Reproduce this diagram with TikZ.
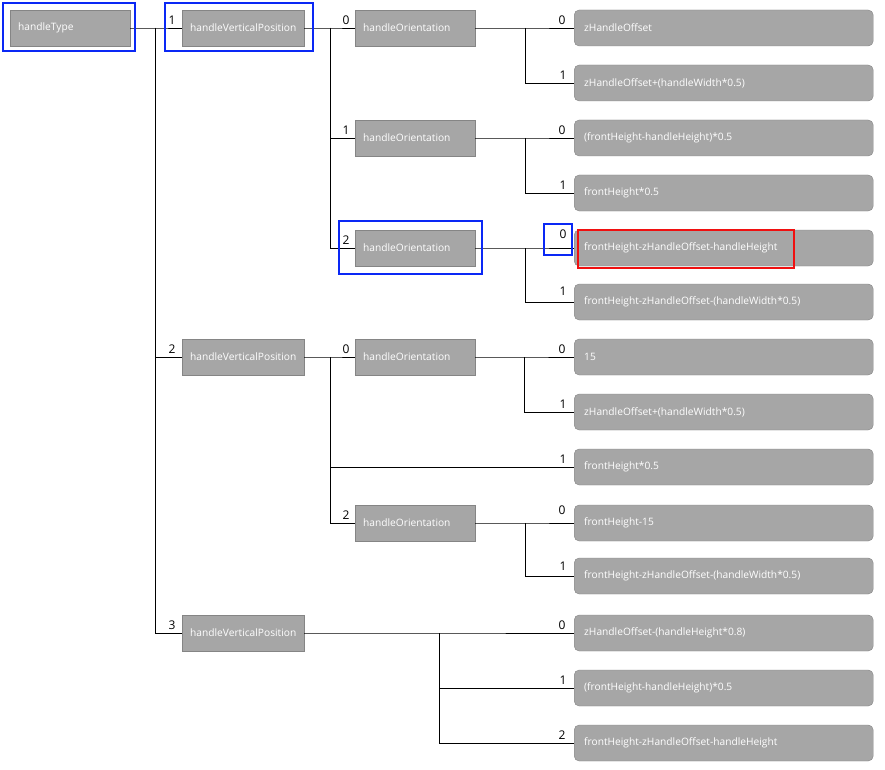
\documentclass[tikz,border=0pt]{standalone}
\usepackage{fontspec}
\setmainfont{Open Sans}
\begin{document}
\begin{tikzpicture}[x=1pt,y=-1pt,
  box/.style={draw=boxline,fill=boxfill,text=white,minimum height=36pt,inner xsep=8pt,inner ysep=0pt,
    text width=104pt,align=left,anchor=west,font=\fontsize{10.2}{12}\selectfont},
  leaf/.style={box,rounded corners=5pt,text width=279pt,inner xsep=10pt},
  idx/.style={font=\fontsize{12}{14}\selectfont,inner sep=0pt,anchor=south},
  wire/.style={draw=black,line width=0.8pt},
  hl/.style={draw=hlblue,line width=1.6pt},
  hlr/.style={draw=hlred,line width=1.6pt}]
\definecolor{boxfill}{HTML}{A6A6A6}
\definecolor{boxline}{HTML}{858585}
\definecolor{hlblue}{HTML}{0A28F5}
\definecolor{hlred}{HTML}{F01010}
\useasboundingbox[fill=white] (0,0) rectangle (885,770);

% level nodes
\node[box] (ht) at (10,28) {handleType};
\node[box,text width=106pt] (v1) at (182,28) {handleVerticalPosition};
\node[box,text width=106pt] (v2) at (182,357) {handleVerticalPosition};
\node[box,text width=106pt] (v3) at (182,633) {handleVerticalPosition};
\node[box] (o10) at (355,28) {handleOrientation};
\node[box] (o11) at (355,138) {handleOrientation};
\node[box] (o12) at (355,248) {handleOrientation};
\node[box] (o20) at (355,357) {handleOrientation};
\node[box] (o22) at (355,523) {handleOrientation};

% leaves
\node[leaf] (l1) at (574,28) {zHandleOffset};
\node[leaf] (l2) at (574,83) {zHandleOffset+(handleWidth*0.5)};
\node[leaf] (l3) at (574,138) {(frontHeight-handleHeight)*0.5};
\node[leaf] (l4) at (574,193) {frontHeight*0.5};
\node[leaf] (l5) at (574,248) {frontHeight-zHandleOffset-handleHeight};
\node[leaf] (l6) at (574,302) {frontHeight-zHandleOffset-(handleWidth*0.5)};
\node[leaf] (l7) at (574,357) {15};
\node[leaf] (l8) at (574,412) {zHandleOffset+(handleWidth*0.5)};
\node[leaf] (l9) at (574,467) {frontHeight*0.5};
\node[leaf] (l10) at (574,523) {frontHeight-15};
\node[leaf] (l11) at (574,576) {frontHeight-zHandleOffset-(handleWidth*0.5)};
\node[leaf] (l12) at (574,633) {zHandleOffset-(handleHeight*0.8)};
\node[leaf] (l13) at (574,688) {(frontHeight-handleHeight)*0.5};
\node[leaf] (l14) at (574,743) {frontHeight-zHandleOffset-handleHeight};

% bus coordinates
\coordinate (b0) at (155,28);
\coordinate (b1) at (330,28);
\coordinate (b2) at (330,357);
\coordinate (c10) at (525,28);
\coordinate (c11) at (525,138);
\coordinate (c12) at (525,248);
\coordinate (c20) at (524,357);
\coordinate (c22) at (525,523);
\coordinate (c3) at (439,633);

% connectors
\draw[wire] (ht.east) -- (b0) -- (v1.west);
\draw[wire] (b0) |- (v2.west);
\draw[wire] (b0) |- (v3.west);
\draw[wire] (v1.east) -- (b1) -- (o10.west);
\draw[wire] (b1) |- (o11.west);
\draw[wire] (b1) |- (o12.west);
\draw[wire] (v2.east) -- (b2) -- (o20.west);
\draw[wire] (b2) |- (l9.west);
\draw[wire] (b2) |- (o22.west);
\draw[wire] (o10.east) -- (c10) -- (l1.west);
\draw[wire] (c10) |- (l2.west);
\draw[wire] (o11.east) -- (c11) -- (l3.west);
\draw[wire] (c11) |- (l4.west);
\draw[wire] (o12.east) -- (c12) -- (l5.west);
\draw[wire] (c12) |- (l6.west);
\draw[wire] (o20.east) -- (c20) -- (l7.west);
\draw[wire] (c20) |- (l8.west);
\draw[wire] (o22.east) -- (c22) -- (l10.west);
\draw[wire] (c22) |- (l11.west);
\draw[wire] (v3.east) -- (c3) -- (l12.west);
\draw[wire] (c3) |- (l13.west);
\draw[wire] (c3) |- (l14.west);

% index labels
\node[idx] (n1) at (172,25) {1};
\node[idx] (n2) at (172,354) {2};
\node[idx] (n3) at (172,630) {3};
\node[idx] (m10) at (346,25) {0};
\node[idx] (m11) at (346,135) {1};
\node[idx] (m12) at (346,245) {2};
\node[idx] (m20) at (346,354) {0};
\node[idx] (m21) at (563,464) {1};
\node[idx] (m22) at (346,520) {2};
\node[idx] (k1) at (562,25) {0};
\node[idx] (k2) at (563,80) {1};
\node[idx] (k3) at (562,135) {0};
\node[idx] (k4) at (563,190) {1};
\node[idx] (k5) at (563,239) {0};
\node[idx] (k6) at (563,296) {1};
\node[idx] (k7) at (562,354) {0};
\node[idx] (k8) at (563,409) {1};
\node[idx] (k10) at (562,515) {0};
\node[idx] (k11) at (563,571) {1};
\node[idx] (k12) at (562,630) {0};
\node[idx] (k13) at (563,685) {1};
\node[idx] (k14) at (562,740) {2};

% highlight frames
\draw[hl] (3,3) rectangle (135,51);
\draw[hl] (165,3) rectangle (313,51);
\draw[hl] (339,221) rectangle (482,274);
\draw[hl] (544,224) rectangle (572,255);
\draw[hlr] (578,230) rectangle (794,268);
\end{tikzpicture}
\end{document}
